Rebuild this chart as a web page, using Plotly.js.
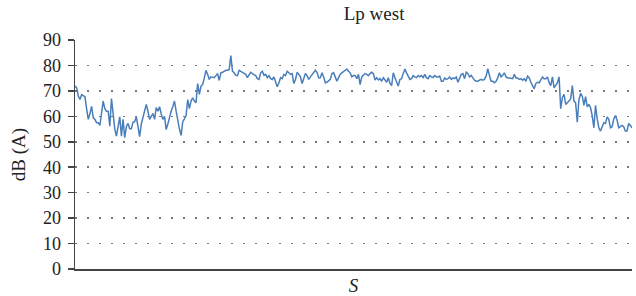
<!DOCTYPE html>
<html>
<head>
<meta charset="utf-8">
<script src="https://cdn.plot.ly/plotly-3.0.1.min.js"></script>
<style>html,body{margin:0;padding:0;background:#fff;}#chart{width:636px;height:296px;}</style>
</head>
<body>
<div id="chart"></div>
<script>
// Sound level Lp (west), dB(A), in sample order along S
const lpWest = [
71.9, 71.2, 68, 66.6, 68.5, 68.2, 67.7, 63, 58.8, 61, 63.9, 59.5, 58.8, 57.5, 57.5, 56.4, 61, 66,
63, 62, 62, 56.1, 67, 60, 55, 52.2, 57, 59.8, 52.2, 58.8, 51.6, 56, 57.2, 55.1, 55.1, 57.7, 57.9,
59.8, 56, 52, 57, 60, 63, 64.7, 62, 58.8, 60, 61.1, 58.8, 63.4, 62, 63.8, 61, 58.8, 60, 54.8,
57, 59.8, 62, 63.8, 66, 62, 57.9, 55, 52.5, 57.9, 59, 60.3, 66.6, 63, 66, 67.3, 66, 65.3,
72.9, 68.6, 71.9, 72.5, 75, 78.1, 76.5, 74.5, 75.5, 75.2, 75.2, 76, 76.8, 74.1, 77.1, 77.3, 77.7,
78.1, 78.1, 78.4, 83.9, 77.7, 77.1, 76.1, 76, 78.1, 77.7, 77.4, 77.1, 76.5, 75.2, 76.5, 77.3, 76.8, 76.2,
76, 74.8,
74.5, 77.1, 77.7, 76.1, 76.5, 75.2, 76, 74.8, 74.5, 75.5, 73.8, 71.6, 73.2, 75.2, 74.8, 76.5, 76, 77.7, 77.1, 76.5,
76.8, 72.9, 74.5, 77.3, 76.5, 75.5, 72.9, 75.2, 76.8, 76, 74.5, 75.5, 76.5, 77.3, 78.1, 77.3, 75.2, 75.2, 77.1, 75.5,
73.2, 73.4, 73.8, 74.5, 76.8, 77.1, 75.5, 73.8, 75.2, 76.5, 77.1, 77.7, 78.4, 78.6, 77.7, 77.1, 75.5, 76, 76, 74.8,
76.5, 72.5, 75.5, 76, 76.8, 76.5, 76, 76.8, 77.3, 76.8, 74.3, 75.2, 74.3, 74.8, 73.8, 75.2, 74.5, 73.4, 75.2, 72.9,
72.1, 77.1, 75.2, 73.4, 71.9, 74.5, 74.8, 76.8, 78.6, 77.1, 75.5, 74.5, 74.8, 76, 75.5, 75.2, 76, 75.5, 76, 75.2,
76.5, 75.2, 74.8, 76, 75.5, 75.2, 76, 75.5,
75.5, 75.8, 73.8, 73.8, 75.1, 74.5, 74.8, 75.5, 74.5, 75.1, 74.8, 75.5, 73.4, 74.8, 76.5, 76.8, 74.8, 77.4, 76.8, 75.5,
76.1, 75.1, 74.2, 73.8, 73.8, 74.2, 74.5, 74.2, 74.5, 75.8, 78.7, 76.1, 73.8, 73.8, 73.2, 73.8, 75.1, 77.1, 75.5, 76.1,
77.1, 75.5, 75.1, 75.1, 74.8, 74.8, 76.5, 75.1, 75.1, 74.5, 74.8, 74.2, 74.8, 73.8, 75.8, 75.1, 73.4, 72.1, 70.8, 72.9,
73.4, 73.2, 74.5, 75.5, 74.8, 74.8, 75.5, 73.2, 72.1, 75.5, 71.2, 72.5, 73.2, 75.5, 63, 67.3, 68.6, 64.7, 65.3, 66,
66.9, 72.1, 66, 65.3, 57.7, 66.6, 69, 67.9, 64.3, 67.7, 63.7, 64.7, 63.4, 60.3, 55.5, 64.3, 59, 55.5, 54.2, 55.9,
57.5, 57.2, 59.8, 58.8, 55.5, 55.9, 59, 60.3, 58.5, 55.5, 55.9, 56.4, 55.9, 54.2, 54.2, 57.2, 56.4, 55.5
];
const yTicks = [0, 10, 20, 30, 40, 50, 60, 70, 80, 90];
const sIndex = lpWest.map((v, i) => i);

const serif = "'Liberation Serif', 'DejaVu Serif', serif";

Plotly.newPlot('chart', [{
  x: sIndex,
  y: lpWest,
  type: 'scatter',
  mode: 'lines',
  line: {color: '#4a7ebb', width: 1.5},
  hoverinfo: 'none'
}], {
  width: 636,
  height: 296,
  margin: {l: 75, r: 4, t: 40, b: 27},
  paper_bgcolor: '#fff',
  plot_bgcolor: '#fff',
  showlegend: false,
  font: {family: serif, color: '#222'},
  title: {
    text: 'Lp west',
    font: {family: serif, size: 19, color: '#222'},
    x: 0.537, xref: 'paper', xanchor: 'center',
    y: 0.955, yref: 'container', yanchor: 'middle'
  },
  xaxis: {
    range: [0, lpWest.length - 1],
    showgrid: false,
    zeroline: false,
    showticklabels: false,
    ticks: '',
    showline: true,
    linecolor: '#444',
    linewidth: 1.5,
    title: {text: '<i>S</i>', font: {family: serif, size: 19, color: '#222'}, standoff: 9}
  },
  yaxis: {
    range: [0, 90],
    tickvals: yTicks,
    ticktext: yTicks.map(String),
    tickfont: {family: serif, size: 18, color: '#222'},
    ticks: 'outside',
    ticklen: 6,
    tickcolor: '#444',
    tickwidth: 1.5,
    ticklabelstandoff: 3,
    showline: true,
    linecolor: '#444',
    linewidth: 1.5,
    zeroline: false,
    showgrid: true,
    gridcolor: '#777',
    gridwidth: 1.5,
    griddash: '1.5px,10.5px',
    title: {text: 'dB (A)', font: {family: serif, size: 19, color: '#222'}, standoff: 12}
  }
}, {staticPlot: true, displayModeBar: false});
</script>
</body>
</html>
